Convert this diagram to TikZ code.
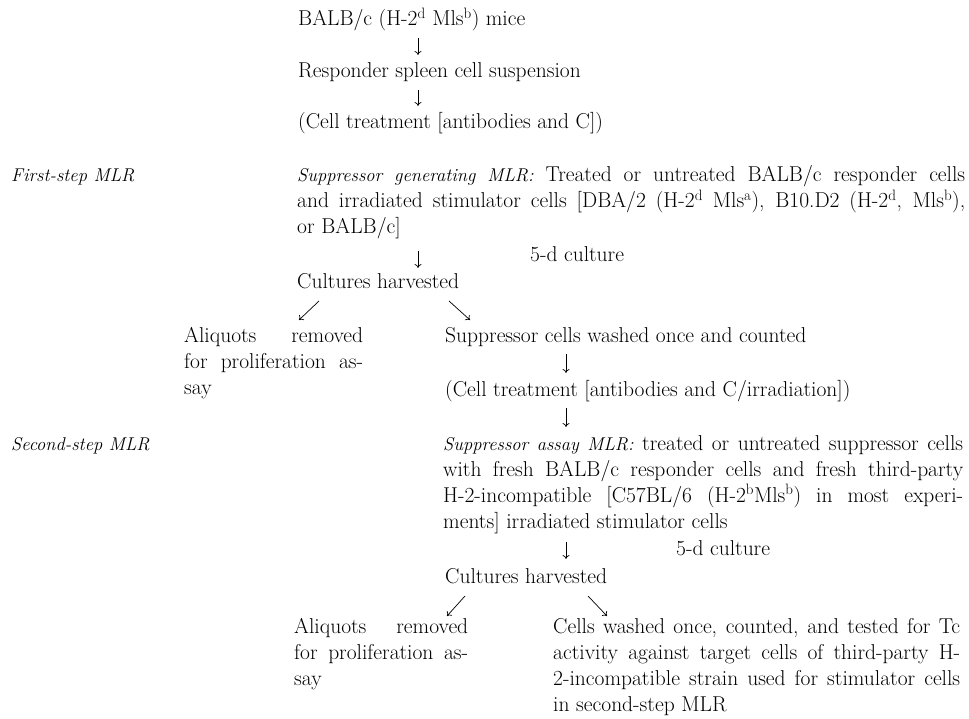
\documentclass[tikz,border=0pt]{standalone}
\usepackage{tikz}
\usetikzlibrary{calc,arrows.meta}
\newcommand\steplab[1]{{\fontsize{18.5}{26}\selectfont\itshape #1}}
\newcommand\tightsp{\spaceskip=0.31em plus 0.3em minus 0.1em\relax}

\begin{document}
\begin{tikzpicture}[x=1pt,y=-1pt,
        every node/.style={font=\fontsize{21.5}{26}\selectfont},
        txt/.style={anchor=base west,inner sep=0pt},
        para/.style={txt,text width=#1,align=justify,execute at begin node=\tightsp},
        arr/.style={-{To[length=4pt,width=7pt]},line width=0.7pt}]
        \useasboundingbox (0,0) rectangle (969,719);
        \coordinate (c1) at (418,0);
        \coordinate (c2) at (566,0);
        % top
        \node[txt] (mice) at (298,26) {BALB/c (H-2\textsuperscript{d} Mls\textsuperscript{b}) mice};
        \node[txt] (resp) at (298,78) {Responder spleen cell suspension};
        \node[txt] (trt) at (298,129) {(Cell treatment [antibodies and C])};
        % first step
        \node[txt] (step1) at (11,182) {\steplab{First-step MLR}};
        \node[para=668pt] (gen) at (297,182) {\steplab{Suppressor generating MLR:} Treated or untreated BALB/c responder cells\linebreak
          and irradiated stimulator cells [DBA/2 (H-2\textsuperscript{d} Mls\textsuperscript{a}), B10.D2 (H-2\textsuperscript{d}, Mls\textsuperscript{b}),\linebreak
          or BALB/c]};
        \node[txt] (cult1) at (530,262) {5-d culture};
        \node[txt] (harv1) at (297,289) {Cultures harvested};
        \node[para=179pt] (aliq1) at (184,342) {Aliquots removed\linebreak for proliferation as-\linebreak say};
        \node[txt] (wash) at (445,342) {Suppressor cells washed once and counted};
        \node[txt] (trt2) at (445,396) {(Cell treatment [antibodies and C/irradiation])};
        % second step
        \node[txt] (step2) at (11,450) {\steplab{Second-step MLR}};
        \node[para=520pt] (assay) at (443,450) {\steplab{Suppressor assay MLR:} treated or untreated suppressor cells\linebreak
          with fresh BALB/c responder cells and fresh third-party\linebreak
          H-2-incompatible [C57BL/6 (H-2\textsuperscript{b}Mls\textsuperscript{b}) in most experi-\linebreak
          ments] irradiated stimulator cells};
        \node[txt] (cult2) at (676,555) {5-d culture};
        \node[txt] (harv2) at (445,583) {Cultures harvested};
        \node[para=174pt] (aliq2) at (294,633) {Aliquots removed\linebreak for proliferation as-\linebreak say};
        \node[para=407pt] (tc) at (553,633) {Cells washed once, counted, and tested for Tc\linebreak
          activity against target cells of third-party H-\linebreak
          2-incompatible strain used for stimulator cells\linebreak
          in second-step MLR};
        % arrows
        \foreach \a/\b/\c in {mice/resp/c1,resp/trt/c1,wash/trt2/c2,trt2/assay/c2}{
          \draw[arr] ($(\a.base -| \c)+(0,12)$) -- ($(\b.base -| \c)+(0,-23)$);
        }
        \draw[arr] ($(gen.south -| c1)+(0,11)$) -- ($(harv1.base -| c1)+(0,-21)$);
        \draw[arr] ($(assay.south -| c2)+(0,8)$) -- ($(harv2.base -| c2)+(0,-24)$);
        \draw[arr] ($(harv1.base west)+(22,12)$) -- ($(aliq1.base west)+(115,-22)$);
        \draw[arr] ($(harv1.base west)+(152,12)$) -- ($(wash.base west)+(25,-22)$);
        \draw[arr] ($(harv2.base west)+(20,13)$) -- ($(aliq2.base west)+(153,-17)$);
        \draw[arr] ($(harv2.base west)+(143,13)$) -- ($(tc.base west)+(54,-17)$);
      \end{tikzpicture}
\end{document}
